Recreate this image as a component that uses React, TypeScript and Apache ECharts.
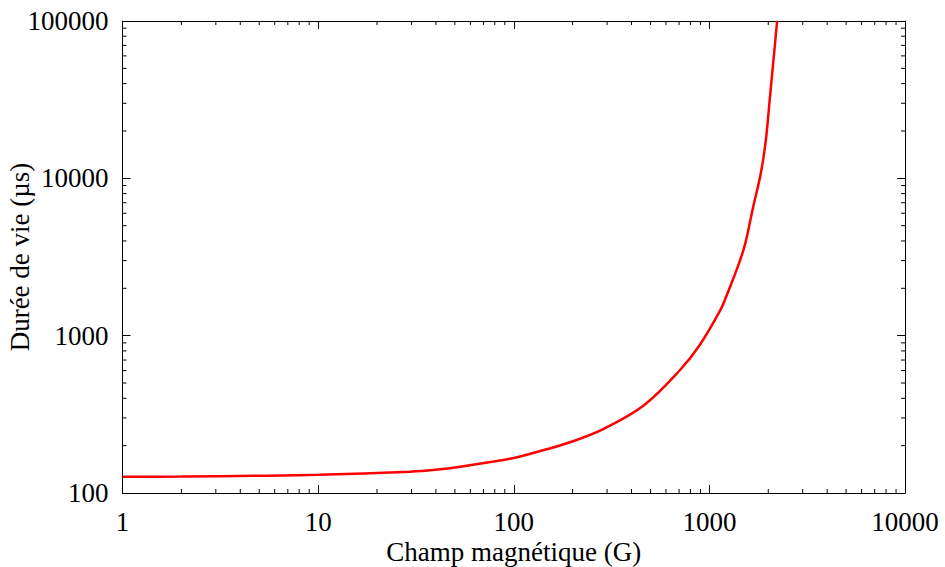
import React, { useEffect, useRef } from "react";
import * as echarts from "echarts";

// Magnetic field (G) and lifetime (µs)
const fieldG = [1, 2, 5, 10, 29.5, 39.6, 53.3, 95.7, 133, 197.5, 292, 465, 708, 893, 1125, 1217, 1494, 1676, 1832, 1942, 2043, 2124, 2221];
const lifetimeUs = [126.9, 127.2, 128.6, 130.5, 136.6, 140.4, 146.9, 165.0, 183.0, 211.8, 257.8, 362.6, 605, 873, 1415, 1762, 3508, 6610, 10770, 17290, 33410, 55770, 100100];

const xMin = 1;
const xMax = 10000;
const yMin = 100;
const yMax = 100000;
const xTitle = "Champ magnétique (G)";
const yTitle = "Durée de vie (µs)";
const minorMultipliers = [2, 3, 4, 5, 6, 7, 8, 9];
const xDecades = [1, 10, 100, 1000];
const yDecades = [100, 1000, 10000];

const FONT = "'Liberation Serif', 'Times New Roman', serif";

export default function App() {
  const ref = useRef<HTMLDivElement>(null);
  useEffect(() => {
    if (!ref.current) return;
    const chart = echarts.init(ref.current, undefined, { renderer: "svg" });
    const xMinor: number[][] = [];
    xDecades.forEach((d) => minorMultipliers.forEach((m) => xMinor.push([d * m, yMin])));
    const yMinor: number[][] = [];
    yDecades.forEach((d) => minorMultipliers.forEach((m) => yMinor.push([xMin, d * m])));

    const labelStyle = { color: "#000", fontFamily: FONT, fontSize: 27 };
    const fmt = (v: number) => String(Math.round(v));
    const baseAxis = {
      type: "log" as const,
      logBase: 10,
      axisLine: { show: true, onZero: false, lineStyle: { color: "#000", width: 1 } },
      axisTick: { show: true, inside: true, length: 8, lineStyle: { color: "#000", width: 1 } },
      splitLine: { show: false },
      minorTick: { show: false },
    };

    chart.setOption({
      animation: false,
      backgroundColor: "#fff",
      grid: { left: 122.5, right: 40, top: 21, bottom: 74, containLabel: false, outerBoundsMode: "none" },
      xAxis: [
        {
          ...baseAxis,
          min: xMin,
          max: xMax,
          position: "bottom",
          splitNumber: 4,
          axisLabel: { ...labelStyle, margin: 15, formatter: fmt },
          name: xTitle,
          nameLocation: "middle",
          nameGap: 45,
          nameMoveOverlap: false,
          nameTextStyle: { ...labelStyle },
        },
        {
          ...baseAxis,
          min: xMin,
          max: xMax,
          position: "top",
          splitNumber: 4,
          axisLabel: { show: false },
        },
      ],
      yAxis: [
        {
          ...baseAxis,
          min: yMin,
          max: yMax,
          position: "left",
          splitNumber: 3,
          axisLabel: { ...labelStyle, margin: 14, formatter: fmt },
          name: yTitle,
          nameLocation: "middle",
          nameGap: 89,
          nameMoveOverlap: false,
          nameTextStyle: { ...labelStyle },
        },
        {
          ...baseAxis,
          min: yMin,
          max: yMax,
          position: "right",
          splitNumber: 3,
          axisLabel: { show: false },
        },
      ],
      series: [
        {
          type: "line",
          data: fieldG.map((b, i) => [b, lifetimeUs[i]]),
          xAxisIndex: 0,
          yAxisIndex: 0,
          showSymbol: false,
          smooth: 0.35,
          clip: true,
          lineStyle: { color: "#ff0000", width: 2.5 },
          silent: true,
        },
        {
          type: "custom",
          xAxisIndex: 0,
          yAxisIndex: 0,
          silent: true,
          clip: false,
          data: xMinor,
          renderItem: (_params: any, api: any) => {
            const v = api.value(0);
            const pb = api.coord([v, yMin]);
            const pt = api.coord([v, yMax]);
            return {
              type: "group",
              children: [
                { type: "line", shape: { x1: pb[0], y1: pb[1], x2: pb[0], y2: pb[1] - 4 }, style: { stroke: "#000", lineWidth: 1 } },
                { type: "line", shape: { x1: pt[0], y1: pt[1], x2: pt[0], y2: pt[1] + 4 }, style: { stroke: "#000", lineWidth: 1 } },
              ],
            };
          },
        },
        {
          type: "custom",
          xAxisIndex: 0,
          yAxisIndex: 0,
          silent: true,
          clip: false,
          data: yMinor,
          renderItem: (_params: any, api: any) => {
            const v = api.value(1);
            const pl = api.coord([xMin, v]);
            const pr = api.coord([xMax, v]);
            return {
              type: "group",
              children: [
                { type: "line", shape: { x1: pl[0], y1: pl[1], x2: pl[0] + 4, y2: pl[1] }, style: { stroke: "#000", lineWidth: 1 } },
                { type: "line", shape: { x1: pr[0], y1: pr[1], x2: pr[0] - 4, y2: pr[1] }, style: { stroke: "#000", lineWidth: 1 } },
              ],
            };
          },
        },
      ],
    });
    return () => chart.dispose();
  }, []);
  return (
    <div
      ref={ref}
      style={{ position: "fixed", left: 0, top: 0, width: 945, height: 567, background: "#fff" }}
    />
  );
}
